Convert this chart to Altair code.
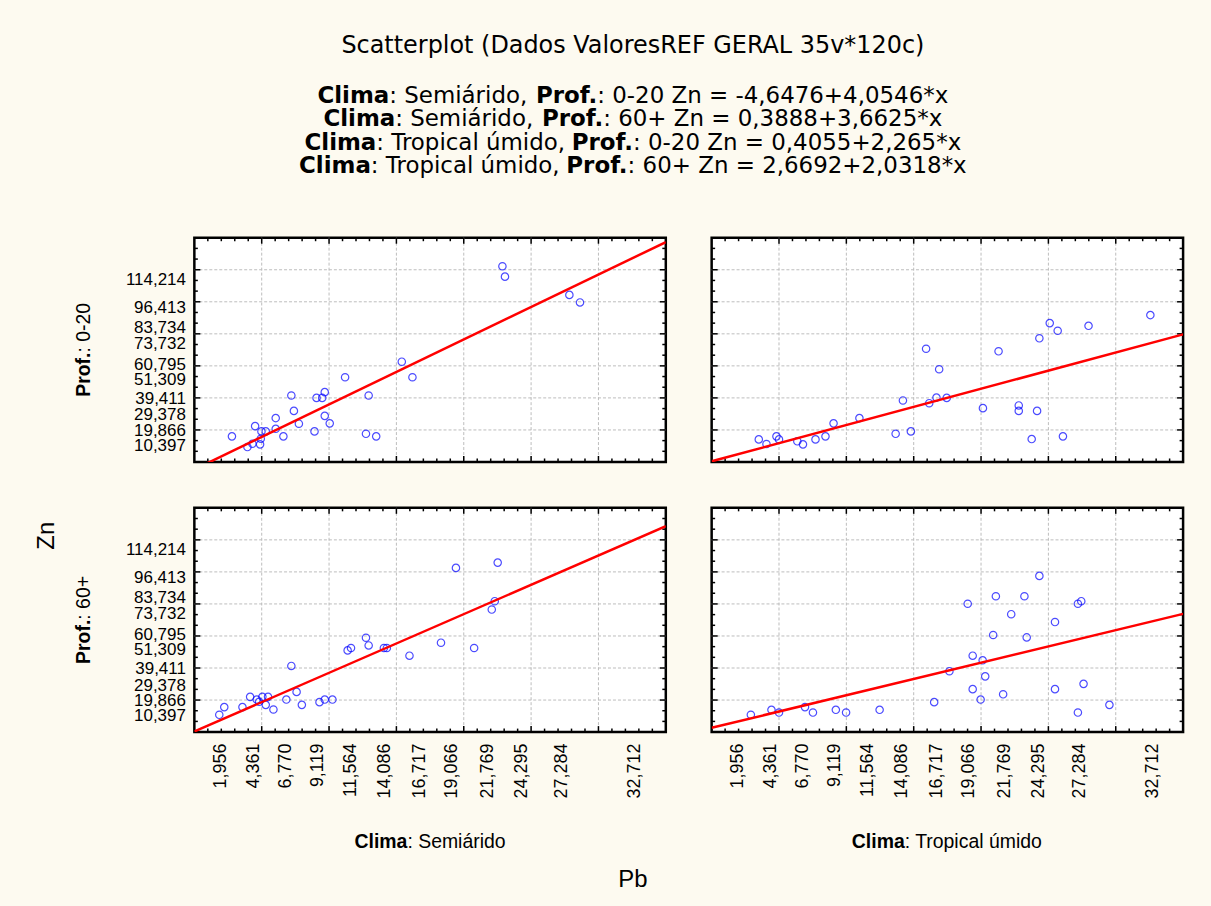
import altair as alt
import pandas as pd

# ---------------- data ----------------
clima_labels = ["Semiárido", "Tropical úmido"]
prof_labels = ["0-20", "60+"]

# Pb (x) and Zn (y) per panel
semi_020_pb = [2.79, 3.94, 4.31, 4.51, 4.88, 4.93, 4.98, 5.30, 6.04, 6.04, 6.61, 7.20, 7.39, 7.76, 8.92,
               9.07, 9.49, 9.68, 9.68, 10.05, 11.19, 12.74, 12.94, 13.50, 15.40, 16.19, 22.87, 23.06, 27.84, 28.63]
semi_020_zn = [16.0, 9.3, 11.4, 22.4, 11.0, 14.5, 19.1, 19.1, 27.4, 20.7, 16.0, 41.5, 31.9, 23.9, 19.1,
               40.0, 40.0, 43.6, 28.8, 24.1, 52.9, 17.6, 41.5, 16.0, 62.6, 52.9, 122.2, 115.7, 104.3, 99.6]

trop_020_pb = [3.50, 4.07, 4.81, 5.00, 6.36, 6.78, 7.71, 8.45, 9.05, 10.97, 13.66, 14.20, 14.79, 15.92, 16.15,
               16.69, 16.89, 17.45, 20.14, 21.30, 22.80, 22.80, 23.76, 24.16, 24.33, 25.10, 25.69, 26.08, 27.98, 32.57]
trop_020_zn = [14.1, 11.2, 16.0, 14.1, 12.9, 11.0, 14.1, 16.0, 24.1, 27.4, 17.6, 38.4, 19.1, 70.7, 36.7,
               40.2, 57.9, 40.0, 33.6, 69.1, 35.3, 31.9, 14.3, 31.9, 77.2, 86.7, 81.9, 16.0, 85.0, 91.7]

semi_60_pb = [1.85, 2.22, 3.57, 4.14, 4.63, 4.81, 5.05, 5.30, 5.47, 5.87, 6.83, 7.20, 7.59, 7.98, 9.29,
              9.68, 10.25, 11.38, 11.63, 12.74, 12.94, 14.07, 14.29, 15.97, 18.31, 19.42, 20.77, 22.08, 22.30, 22.52]
semi_60_zn = [10.8, 15.6, 15.6, 22.0, 20.3, 18.9, 22.0, 17.0, 22.0, 14.1, 20.3, 41.3, 25.1, 17.0, 18.7,
              20.3, 20.3, 51.0, 52.5, 58.9, 54.1, 52.5, 52.5, 47.7, 55.8, 102.5, 52.5, 76.5, 81.7, 105.8]

trop_60_pb = [2.91, 4.44, 5.00, 6.93, 7.52, 9.22, 9.98, 12.47, 16.52, 17.65, 19.01, 19.38, 19.38, 19.97, 20.12,
              20.31, 20.90, 21.10, 21.64, 22.24, 23.22, 23.39, 24.33, 25.49, 25.49, 27.19, 27.19, 27.44, 27.61, 29.53]
trop_60_zn = [10.8, 13.9, 12.2, 15.6, 12.2, 13.9, 12.2, 13.9, 18.7, 38.0, 80.1, 47.7, 26.8, 20.3, 44.8,
              34.8, 60.6, 84.8, 23.6, 73.6, 84.8, 59.1, 97.5, 68.7, 26.8, 80.1, 12.2, 81.7, 30.1, 17.0]

# regression fits printed in the title (order: Semi 0-20, Semi 60+, Trop 0-20, Trop 60+)
fit_a = [-4.6476, 0.3888, 0.4055, 2.6692]
fit_b = [4.0546, 3.6625, 2.265, 2.0318]

x_tick_values = [1.956, 4.361, 6.770, 9.119, 11.564, 14.086, 16.717, 19.066, 21.769, 24.295, 27.284, 32.712]
y_tick_values = [10.397, 19.866, 29.378, 39.411, 51.309, 60.795, 73.732, 83.734, 96.413, 114.214]

title_text = "Scatterplot (Dados ValoresREF GERAL 35v*120c)"

# ---------------- layout / style ----------------
CANVAS_W, CANVAS_H = 1211, 906
LEFT, TOP = 193, 235
PW, PH = 473, 225
GAP = 46
X_DOMAIN = [0, 35]
Y_DOMAIN = [0, 140]
GRID_X = [5, 10, 15, 20, 25, 30]
GRID_Y = [20, 40, 60, 80, 100, 120]
MINOR_X = [v for v in range(1, 35) if v % 5 != 0]
MINOR_Y = [k * 20 / 3 for k in range(1, 21) if k % 3 != 0]
BG = "#FDFAF0"
GRID_COLOR = "#BDBDBD"
SANS = "Liberation Sans"
HEAD = "DejaVu Sans"

DJ = {' ': .318, ':': .337, ',': .318, '.': .318, '-': .361, '+': .838, '=': .838, '*': .5,
      'S': .635, 'T': .611, 'Z': .685, 'a': .613, 'á': .613, 'c': .55, 'd': .635, 'e': .615, 'i': .278,
      'l': .278, 'm': .974, 'n': .634, 'o': .612, 'p': .635, 'r': .411, 'u': .634, 'ú': .634, 'x': .592}
DJ.update({str(d): .636 for d in range(10)})
DJ_KERN = {'Tr': -0.26}
DJB = {'C': .734, 'l': .343, 'i': .343, 'm': 1.042, 'a': .675, 'P': .733, 'r': .493, 'o': .687, 'f': .435, '.': .381}
LS = {' ': .278, ':': .278, ',': .278, '.': .278, '-': .333, '+': .584, 'S': .667, 'T': .611, 'a': .556,
      'á': .556, 'c': .5, 'd': .556, 'e': .556, 'i': .222, 'l': .222, 'm': .833, 'o': .556, 'p': .556,
      'r': .333, 'u': .556, 'ú': .556}
LS.update({str(d): .556 for d in range(10)})
LSB = {'C': .722, 'l': .278, 'i': .278, 'm': .889, 'a': .556, 'P': .667, 'r': .389, 'o': .611, 'f': .333, '.': .278}


def tw(s, table, size, kern=None):
    w = sum(table.get(c, 0.55) for c in s)
    if kern:
        w += sum(kern.get(s[i:i + 2], 0) for i in range(len(s) - 1))
    return w * size


def txt(s, x, y, size, bold=False, font=SANS, angle=0, align="center"):
    """Annotation text, positioned in absolute canvas pixels (converted to the top-left panel frame)."""
    return alt.Chart(alt.Data(values=[{}])).mark_text(
        text=s, font=font, fontSize=size, fontWeight="bold" if bold else "normal",
        angle=angle, align=align, baseline="alphabetic", color="black",
    ).encode(x=alt.value(x - LEFT), y=alt.value(y - TOP))


def fmt(v):
    return str(v).replace(".", ",")


annot = []
# invisible canvas-sized box so the page is exactly CANVAS_W x CANVAS_H
annot.append(alt.Chart(alt.Data(values=[{}])).mark_rect(opacity=0).encode(
    x=alt.value(-LEFT), x2=alt.value(CANVAS_W - LEFT), y=alt.value(-TOP), y2=alt.value(CANVAS_H - TOP)))

HCX = 633
annot.append(txt(title_text, HCX, 50, 24, font=HEAD))
combos = [(clima_labels[0], prof_labels[0]), (clima_labels[0], prof_labels[1]),
          (clima_labels[1], prof_labels[0]), (clima_labels[1], prof_labels[1])]
for i, (cl, pr) in enumerate(combos):
    fs = 23
    s1, s2, s3 = "Clima", f": {cl}, ", "Prof."
    s4 = f": {pr} Zn = {fmt(fit_a[i])}+{fmt(fit_b[i])}*x"
    w1, w2 = tw(s1, DJB, fs), tw(s2, DJ, fs, DJ_KERN)
    w3, w4 = tw(s3, DJB, fs), tw(s4, DJ, fs, DJ_KERN)
    start = HCX - (w1 + w2 + w3 + w4) / 2
    b1 = start + w1
    b3 = b1 + w2 + w3
    y = 100 + i * 23.4
    annot.append(txt(s1, b1, y, fs, bold=True, font=HEAD, align="right"))
    annot.append(txt(s2, b1, y, fs, font=HEAD, align="left"))
    annot.append(txt(s3, b3, y, fs, bold=True, font=HEAD, align="right"))
    annot.append(txt(s4, b3, y, fs, font=HEAD, align="left"))

# row labels (rotated)
LFS = 19.5
for r, pr in enumerate(prof_labels):
    cy = TOP + r * (PH + GAP) + PH / 2
    wb, wn = tw("Prof.", LSB, LFS), tw(f": {pr}", LS, LFS)
    yb = cy + (wb + wn) / 2 - wb
    annot.append(txt("Prof.", 88, yb, LFS, bold=True, angle=270, align="right"))
    annot.append(txt(f": {pr}", 88, yb, LFS, angle=270, align="left"))

# column labels
for c, cl in enumerate(clima_labels):
    cx = LEFT + c * (PW + GAP) + PW / 2
    wb, wn = tw("Clima", LSB, LFS), tw(f": {cl}", LS, LFS)
    xb = cx - (wb + wn) / 2 + wb
    annot.append(txt("Clima", xb, 847, LFS, bold=True, align="right"))
    annot.append(txt(f": {cl}", xb, 847, LFS, align="left"))

annot.append(txt("Zn", 52, 534, 24, angle=270))
annot.append(txt("Pb", HCX, 886, 24))

LABEL_EXPR = "replace(format(datum.value, '.3f'), '.', ',')"


def panel(pb, zn, a, b, show_x, show_y, extra=()):
    xs = alt.Scale(domain=X_DOMAIN, nice=False, zero=False)
    ys = alt.Scale(domain=Y_DOMAIN, nice=False, zero=False)
    x_axis = alt.Axis(values=x_tick_values, labelExpr=LABEL_EXPR, labelAngle=270, labelFontSize=18,
                      labelFont=SANS, labelColor="black", ticks=False, domain=False, grid=False,
                      title=None, labelPadding=11, labelOverlap=False) if show_x else None
    y_axis = alt.Axis(values=y_tick_values, labelExpr=LABEL_EXPR, labelFontSize=17, labelFont=SANS,
                      labelColor="black", ticks=False, domain=False, grid=False, title=None,
                      labelPadding=9, labelOverlap=False) if show_y else None

    def X(f):
        return alt.X(f, scale=xs, axis=x_axis)

    def Y(f):
        return alt.Y(f, scale=ys, axis=y_axis)

    layers = [extra[0]] if extra else []
    layers.append(alt.Chart(pd.DataFrame({"v": GRID_X})).mark_rule(
        color=GRID_COLOR, strokeDash=[3, 2], strokeWidth=1).encode(x=X("v:Q")))
    layers.append(alt.Chart(pd.DataFrame({"v": GRID_Y})).mark_rule(
        color=GRID_COLOR, strokeDash=[3, 2], strokeWidth=1).encode(y=Y("v:Q")))
    for vals, ln in ((MINOR_X, 3.5), (GRID_X, 6)):
        base = alt.Chart(pd.DataFrame({"v": vals})).mark_rule(color="black", strokeWidth=1.5)
        layers.append(base.encode(x=X("v:Q"), y=alt.value(0), y2=alt.value(ln)))
        layers.append(base.encode(x=X("v:Q"), y=alt.value(PH), y2=alt.value(PH - ln)))
    for vals, ln in ((MINOR_Y, 3.5), (GRID_Y, 6)):
        base = alt.Chart(pd.DataFrame({"v": vals})).mark_rule(color="black", strokeWidth=1.5)
        layers.append(base.encode(y=Y("v:Q"), x=alt.value(0), x2=alt.value(ln)))
        layers.append(base.encode(y=Y("v:Q"), x=alt.value(PW), x2=alt.value(PW - ln)))
    pts = pd.DataFrame({"Pb": pb, "Zn": zn})
    layers.append(alt.Chart(pts).mark_point(shape="circle", filled=False, color="#0000FF", size=55,
                                            strokeWidth=1.2).encode(x=X("Pb:Q"), y=Y("Zn:Q")))
    fit = pd.DataFrame({"Pb": X_DOMAIN, "Zn": [a + b * v for v in X_DOMAIN]})
    layers.append(alt.Chart(fit).mark_line(color="#FF0000", strokeWidth=2.5, clip=True).encode(
        x=X("Pb:Q"), y=Y("Zn:Q")))
    layers.extend(extra[1:])
    return alt.layer(*layers).properties(width=PW, height=PH)


tl = panel(semi_020_pb, semi_020_zn, fit_a[0], fit_b[0], False, True, extra=annot)
tr = panel(trop_020_pb, trop_020_zn, fit_a[2], fit_b[2], False, False)
bl = panel(semi_60_pb, semi_60_zn, fit_a[1], fit_b[1], True, True)
br = panel(trop_60_pb, trop_60_zn, fit_a[3], fit_b[3], True, False)

chart = alt.concat(tl, tr, bl, br, columns=2, spacing=GAP, bounds="flush").properties(
    padding=0, background=BG
).configure_view(fill="white", stroke="black", strokeWidth=2.5)

chart.save("out.html", embed_options={"renderer": "svg", "actions": False})
